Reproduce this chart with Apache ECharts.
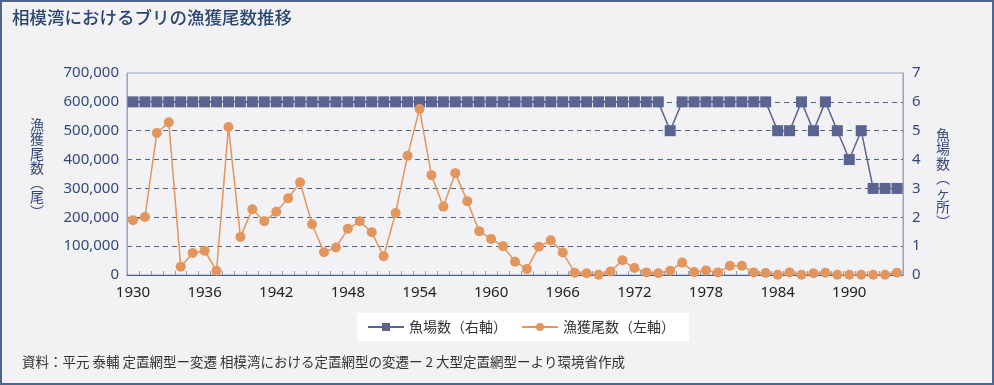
<!DOCTYPE html>
<html>
<head>
<meta charset="utf-8">
<script src="https://cdn.jsdelivr.net/npm/echarts@6/dist/echarts.min.js"></script>
<style>
html,body{margin:0;padding:0;background:#f2f2f5;}
#chart{width:994px;height:385px;}
</style>
</head>
<body>
<div id="chart"></div>
<script>
const years = [];
for (let y = 1930; y <= 1994; y++) years.push(String(y));

// 漁獲尾数（左軸）
const catchCount = [
  190000, 201000, 492000, 529000, 29000, 76000, 84000, 15000, 513000, 132000,
  228000, 186000, 219000, 266000, 321000, 176000, 79000, 95000, 160000, 186000,
  148000, 65000, 215000, 413000, 575000, 346000, 237000, 353000, 256000, 152000,
  125000, 100000, 46000, 21000, 98000, 120000, 78000, 8000, 6000, 1000,
  12000, 51000, 24000, 9000, 6000, 15000, 43000, 10000, 16000, 9000,
  32000, 32000, 9000, 7000, 1000, 9000, 1000, 6000, 8000, 1000,
  1000, 1000, 1000, 1000, 8000
];

// 魚場数（右軸）
const fisheryCount = [
  6, 6, 6, 6, 6, 6, 6, 6, 6, 6,
  6, 6, 6, 6, 6, 6, 6, 6, 6, 6,
  6, 6, 6, 6, 6, 6, 6, 6, 6, 6,
  6, 6, 6, 6, 6, 6, 6, 6, 6, 6,
  6, 6, 6, 6, 6, 5, 6, 6, 6, 6,
  6, 6, 6, 6, 5, 5, 6, 5, 6, 5,
  4, 5, 3, 3, 3
];

const leftTicks = [0, 100000, 200000, 300000, 400000, 500000, 600000, 700000];
const rightTicks = [0, 1, 2, 3, 4, 5, 6, 7];

const title = '相模湾におけるブリの漁獲尾数推移';
const leftName = '漁獲尾数（尾）';
const rightName = '魚場数（ヶ所）';
const seriesNames = ['魚場数（右軸）', '漁獲尾数（左軸）'];
const source = '資料：平元 泰輔 定置網型ー変遷 相模湾における定置網型の変遷ー 2 大型定置網型ーより環境省作成';

function vert(s){
  return s.split('').map(c => c === '（' ? '︵' : c === '）' ? '︶' : c).join('\n');
}

const FONT = '"Noto Sans CJK JP", "Noto Sans", sans-serif';
const chart = echarts.init(document.getElementById('chart'), null, {renderer: 'canvas'});
chart.setOption({
  backgroundColor: '#f2f2f5',
  textStyle: {fontFamily: FONT},
  animation: false,
  grid: {left: 127, right: 91, top: 73, bottom: 110, show: true, borderColor: '#97a4c0', borderWidth: 1, backgroundColor: 'transparent'},
  legend: {
    left: 357, top: 313,
    padding: [7, 14, 7, 10],
    backgroundColor: '#ffffff',
    itemWidth: 36, itemHeight: 10, itemGap: 14,
    textStyle: {fontSize: 14, color: '#333', fontFamily: FONT},
    data: seriesNames
  },
  xAxis: {
    type: 'category',
    data: years,
    boundaryGap: true,
    axisLine: {lineStyle: {color: '#4d5e88', width: 1}},
    axisTick: {show: true, inside: true, length: 4, interval: 0, lineStyle: {color: '#8d9bb8'}},
    axisLabel: {interval: 5, fontSize: 15, color: '#222', margin: 10, fontFamily: '"Noto Sans", sans-serif'},
    splitLine: {show: false}
  },
  yAxis: [
    {
      type: 'value', min: leftTicks[0], max: leftTicks[leftTicks.length - 1], interval: 100000,
      axisLine: {show: true, lineStyle: {color: '#97a4c0'}},
      axisTick: {show: false},
      axisLabel: {fontSize: 15, color: '#34497a', margin: 8, fontFamily: '"Noto Sans", sans-serif',
        formatter: v => v.toLocaleString('en-US')},
      splitLine: {show: true, showMinLine: false, showMaxLine: false, lineStyle: {color: '#4d6289', type: [5, 4], width: 1}}
    },
    {
      type: 'value', min: rightTicks[0], max: rightTicks[rightTicks.length - 1], interval: 1,
      position: 'right',
      axisLine: {show: true, lineStyle: {color: '#97a4c0'}},
      axisTick: {show: false},
      axisLabel: {fontSize: 15, color: '#34497a', margin: 9, fontFamily: '"Noto Sans", sans-serif'},
      splitLine: {show: false}
    }
  ],
  series: [
    {
      name: seriesNames[0], type: 'line', yAxisIndex: 1, data: fisheryCount,
      symbol: 'rect', symbolSize: 11, showAllSymbol: true,
      itemStyle: {color: '#5b6390'}, lineStyle: {color: '#5b6390', width: 1.5}, z: 3
    },
    {
      name: seriesNames[1], type: 'line', yAxisIndex: 0, data: catchCount,
      symbol: 'circle', symbolSize: 10, showAllSymbol: true,
      itemStyle: {color: '#e2955d'}, lineStyle: {color: '#e2955d', width: 1.5}, z: 4
    }
  ],
  graphic: [
    {type: 'rect', shape: {x: 1, y: 1, width: 992, height: 383}, style: {fill: 'none', stroke: '#4f6491', lineWidth: 2}, silent: true},
    {type: 'text', left: 12, top: 9, style: {text: title, font: '500 17.5px ' + FONT, fill: '#2b4572'}},
    {type: 'text', left: 30, top: 117, style: {text: vert(leftName), font: '14px ' + FONT, fill: '#34497a', lineHeight: 14.5, align: 'left'}},
    {type: 'text', left: 936, top: 127, style: {text: vert(rightName), font: '14px ' + FONT, fill: '#34497a', lineHeight: 14.5, align: 'left'}},
    {type: 'text', left: 22, top: 355, style: {text: source, font: '13.5px ' + FONT, fill: '#333'}}
  ]
});
</script>
</body>
</html>
